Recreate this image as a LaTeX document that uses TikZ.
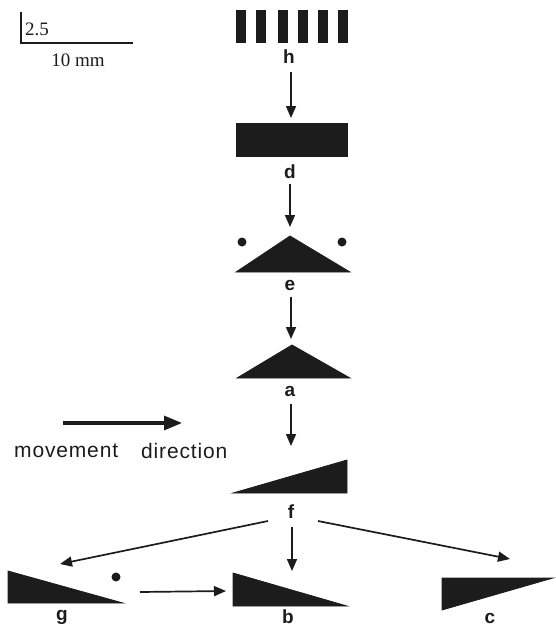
\documentclass[tikz,border=0pt]{standalone}
\usepackage{fontspec}
\setmainfont{Liberation Serif}
\setsansfont{Liberation Sans}
\usetikzlibrary{arrows.meta}
\definecolor{ink}{RGB}{28,28,28}
\tikzset{
  solid shape/.style={fill=ink,draw=ink,line width=0.8pt,line join=miter},
  lbl/.style={font=\sffamily\bfseries\fontsize{19}{20}\selectfont,inner sep=0pt,text=ink},
  arr/.style={draw=ink,line width=1.7pt,-{Triangle[length=12pt,width=10pt]}},
  bigarr/.style={draw=ink,line width=3.2pt,-{Triangle[length=18pt,width=14pt]}},
  dot/.style={circle,fill=ink,inner sep=0pt,minimum size=9pt},
  scl/.style={font=\fontsize{19}{20}\selectfont,inner sep=0pt,text=ink},
  mv/.style={font=\sffamily\fontsize{21}{23}\selectfont\addfontfeature{LetterSpace=4},inner sep=0pt,text=ink}
}
\begin{document}
\begin{tikzpicture}[x=1pt,y=-1pt]
\useasboundingbox (0,0) rectangle (555,629);
% scale bar
\draw[ink,line width=1.2pt] (21,12) -- (21,43) -- (133,43);
\node[scl,anchor=west] (sc1) at (25,29) {2.5};
\node[scl] (sc2) at (78,60) {10 mm};
% h bars
\foreach \xx in {236,256,278,298,318,338}
  \fill[ink] (\xx,10) rectangle ++(10,33);
\node[lbl] (lh) at (289,57) {h};
% d
\fill[ink] (236,123) rectangle (348,157);
\node[lbl] (ld) at (290,172) {d};
% e
\path[solid shape] (236,272) -- (290,236) -- (350,272) -- cycle;
\node[dot] (e1) at (242,242) {};
\node[dot] (e2) at (342,242) {};
\node[lbl] (le) at (290,285) {e};
% a
\path[solid shape] (237,378) -- (292,345) -- (350,378) -- cycle;
\node[lbl] (la) at (290,391) {a};
% f
\path[solid shape] (233,493) -- (347,460) -- (347,493) -- cycle;
\node[lbl] (lf) at (291,512) {f};
% g
\path[solid shape] (8,571) -- (8,603) -- (123,603) -- cycle;
\node[dot] (gd) at (116,577) {};
\node[lbl] (lg) at (62,617) {g};
% b
\path[solid shape] (233,573) -- (233,606) -- (347,606) -- cycle;
\node[lbl] (lb) at (288,617) {b};
% c
\path[solid shape] (442,578) -- (553,578) -- (442,610) -- cycle;
\node[lbl] (lc) at (490,618) {c};
% arrow anchors
\coordinate (h1) at (291,72);  \coordinate (h2) at (291,118);
\coordinate (d1) at (290,184); \coordinate (d2) at (290,227);
\coordinate (e3) at (291,297); \coordinate (e4) at (291,339);
\coordinate (a1) at (291,404); \coordinate (a2) at (291,446);
\coordinate (f1) at (268,521); \coordinate (g1) at (60,564);
\coordinate (f2) at (292,527); \coordinate (b1) at (292,571);
\coordinate (f3) at (318,521); \coordinate (c1) at (510,559);
\coordinate (g2) at (140,592); \coordinate (b2) at (226,591);
\coordinate (m1) at (63,423);  \coordinate (m2) at (182,423);
\draw[arr] (h1) -- (h2);
\draw[arr] (d1) -- (d2);
\draw[arr] (e3) -- (e4);
\draw[arr] (a1) -- (a2);
\draw[arr] (f1) -- (g1);
\draw[arr] (f2) -- (b1);
\draw[arr] (f3) -- (c1);
\draw[arr] (g2) -- (b2);
\draw[bigarr] (m1) -- (m2);
\node[mv,anchor=west] (mv1) at (14,451) {movement};
\node[mv,anchor=west] (mv2) at (141,451) {direction};
\end{tikzpicture}
\end{document}
